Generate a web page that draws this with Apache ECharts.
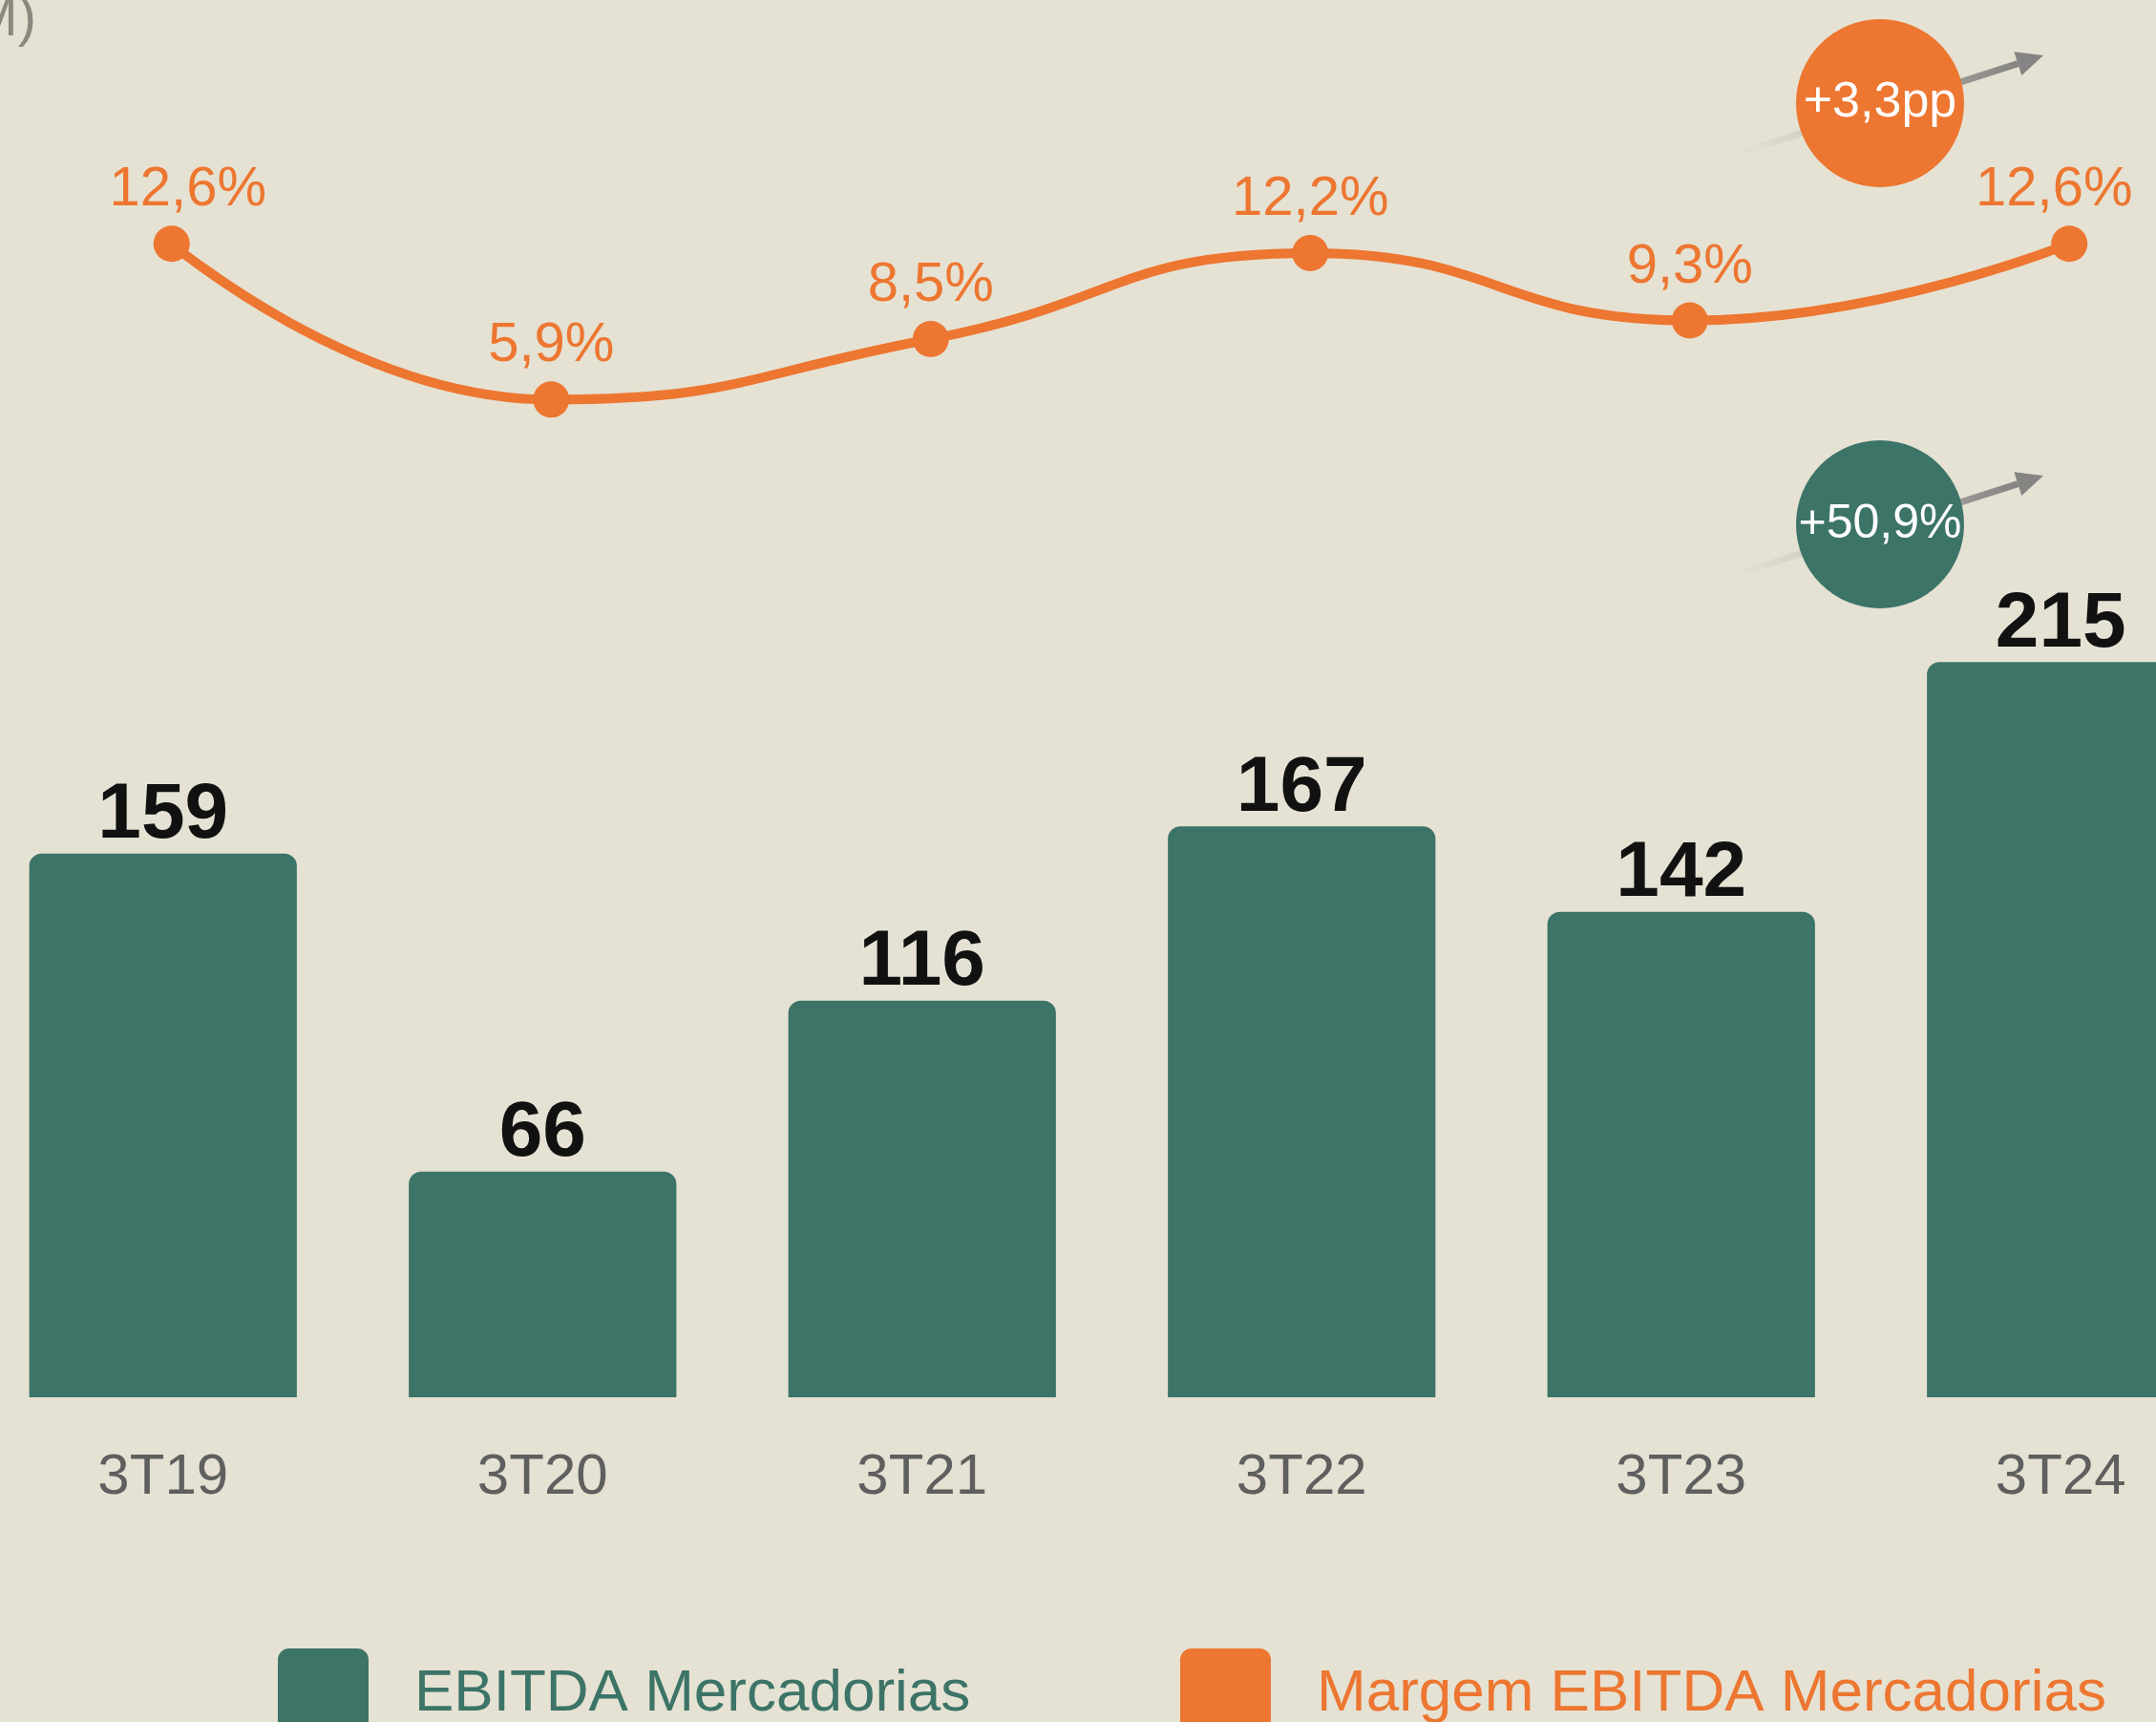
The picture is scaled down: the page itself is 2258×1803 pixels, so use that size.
<!DOCTYPE html>
<html><head><meta charset="utf-8">
<script src="https://cdn.jsdelivr.net/npm/echarts@6/dist/echarts.min.js"></script>
<style>html,body{margin:0;padding:0;background:#E5E2D3;overflow:hidden}#c{width:2258px;height:1803px;}</style>
</head><body><div id="c"></div>
<script>
const categories = ['3T19', '3T20', '3T21', '3T22', '3T23', '3T24'];
const ebitda = [159, 66, 116, 167, 142, 215];
const margem = [12.6, 5.9, 8.5, 12.2, 9.3, 12.6];
const seriesNames = ['EBITDA Mercadorias', 'Margem EBITDA Mercadorias'];
const badgeTexts = ['+3,3pp', '+50,9%'];
const unitLabel = '(R$ M)';

const GREEN = '#3C7467', ORANGE = '#ED7631', BG = '#E5E2D3';
const SANS = "'Liberation Sans', Arial, sans-serif";
const fmtPct = v => v.toFixed(1).replace('.', ',') + '%';

const chart = echarts.init(document.getElementById('c'));

function arrow(dy) {
  const tail = [1813, 163 + dy], tip = [2140, 58 + dy];
  const dx = tip[0] - tail[0], dyv = tip[1] - tail[1];
  const L = Math.hypot(dx, dyv), ux = dx / L, uy = dyv / L, nx = -uy, ny = ux;
  const hl = 28, hw = 13;
  const bx = tip[0] - hl * ux, by = tip[1] - hl * uy;
  return [
    { type: 'line', z: 5, shape: { x1: tail[0], y1: tail[1], x2: bx, y2: by },
      style: { lineWidth: 7, stroke: { type: 'linear', x: tail[0], y: tail[1], x2: bx, y2: by, global: true,
        colorStops: [{ offset: 0, color: 'rgba(215,212,200,0)' }, { offset: 0.35, color: 'rgba(200,198,188,1)' }, { offset: 1, color: '#858483' }] } } },
    { type: 'polygon', z: 5, shape: { points: [tip, [bx + hw * nx, by + hw * ny], [bx - hw * nx, by - hw * ny]] }, style: { fill: '#858483' } }
  ];
}

function badge(cy, color, text, fs) {
  return [
    { type: 'circle', z: 10, shape: { cx: 1969, cy: cy, r: 88 }, style: { fill: color } },
    { type: 'text', z: 11, x: 1969, y: cy, style: { text: text, fill: '#fff', font: fs + 'px ' + SANS, align: 'center', verticalAlign: 'middle' } }
  ];
}

const iconPath = 'path://M2.5,0H17.5A2.5,2.5 0 0 1 20,2.5V17.5A2.5,2.5 0 0 1 17.5,20H2.5A2.5,2.5 0 0 1 0,17.5V2.5A2.5,2.5 0 0 1 2.5,0Z';

chart.setOption({
  backgroundColor: BG,
  animation: false,
  grid: [
    { left: -28, width: 2385, top: 568, height: 895, outerBoundsMode: 'none', containLabel: false },
    { left: -19, width: 2385, top: 75, height: 487, outerBoundsMode: 'none', containLabel: false }
  ],
  xAxis: [
    { type: 'category', gridIndex: 0, data: categories,
      axisLine: { show: false }, axisTick: { show: false },
      axisLabel: { margin: 54, color: '#5F5F5F', fontSize: 60, fontFamily: SANS } },
    { type: 'category', gridIndex: 1, data: categories, show: false }
  ],
  yAxis: [
    { type: 'value', gridIndex: 0, min: 0, max: 250, show: false, splitLine: { show: false } },
    { type: 'value', gridIndex: 1, min: 0, max: 20, show: false, splitLine: { show: false } }
  ],
  legend: [
    { data: [{ name: seriesNames[0], textStyle: { color: GREEN } }], left: 286, top: 1721,
      itemWidth: 95, itemHeight: 95, icon: iconPath,
      textStyle: { fontSize: 62, fontFamily: SANS, padding: [0, 0, 0, 43] } },
    { data: [{ name: seriesNames[1], textStyle: { color: ORANGE } }], left: 1231, top: 1721,
      itemWidth: 95, itemHeight: 95, icon: iconPath,
      textStyle: { fontSize: 62, fontFamily: SANS, padding: [0, 0, 0, 43] } }
  ],
  series: [
    { name: seriesNames[0], type: 'bar', xAxisIndex: 0, yAxisIndex: 0, data: ebitda,
      barCategoryGap: '29.5%',
      itemStyle: { color: GREEN, borderRadius: [13, 13, 0, 0] },
      label: { show: true, position: 'top', distance: -2, color: '#111', fontSize: 82, fontWeight: 'bold', fontFamily: SANS } },
    { name: seriesNames[1], type: 'line', xAxisIndex: 1, yAxisIndex: 1,
      data: margem.map((v, i) => ({ value: v, label: { offset: i === 0 ? [17, 0] : (i === margem.length - 1 ? [-16, 0] : [0, 0]) } })),
      smooth: 0.5, symbol: 'circle', symbolSize: 38,
      lineStyle: { color: ORANGE, width: 10 }, itemStyle: { color: ORANGE },
      label: { show: true, position: 'top', distance: 8, color: ORANGE, fontSize: 58, fontFamily: SANS, formatter: p => fmtPct(p.value) } }
  ],
  graphic: [
    { type: 'text', x: 38, y: 50, style: { text: unitLabel, fill: '#8B887F', font: '58px ' + SANS, align: 'right', verticalAlign: 'bottom' } },
    ...arrow(0), ...arrow(440),
    ...badge(108, ORANGE, badgeTexts[0], 52),
    ...badge(549, GREEN, badgeTexts[1], 50)
  ]
});
</script></body></html>
